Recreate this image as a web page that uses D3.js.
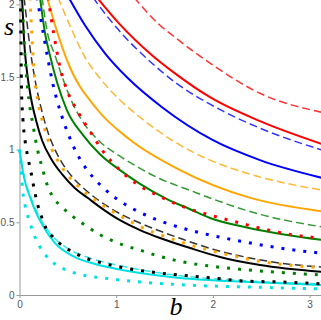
<!DOCTYPE html>
<html lang="en">
<head>
    <meta charset="UTF-8">
    <title>s vs b</title>
    <script src="https://d3js.org/d3.v7.min.js"></script>
    <style>
        body { margin: 0; background: #fff; }
        .tick text { font-family: "Liberation Sans", sans-serif; font-size: 10px; fill: #555; }
        .axis path, .axis line { stroke: #999; }
    </style>
</head>
<body>
    <div class="canvas"></div>
    <script>
        // curves, each point is [b, s]
        let redDashed = [[1.184, 2.048], [1.453, 1.856], [1.608, 1.773], [1.970, 1.595], [2.487, 1.388], [3.14, 1.255]];
        let redSolid = [[0.800, 2.048], [1.019, 1.876], [1.370, 1.650], [1.608, 1.525], [1.970, 1.361], [2.487, 1.196], [3.14, 1.036]];
        let redDotted = [[0.295, 2.048], [0.357, 1.787], [0.419, 1.567], [0.491, 1.409], [0.595, 1.271], [0.729, 1.127], [0.863, 0.990],
            [1.039, 0.859], [1.215, 0.763], [1.422, 0.687], [1.732, 0.598], [1.970, 0.550], [2.281, 0.495], [2.487, 0.460], [2.848, 0.412], [3.14, 0.390]];

        let blueDashed = [[0.760, 2.048], [0.812, 2.000], [1.019, 1.828], [1.370, 1.595], [1.608, 1.464], [1.970, 1.313], [2.487, 1.148], [3.14, 0.995]];
        let blueSolid = [[0.502, 2.055], [0.677, 1.856], [0.884, 1.663], [1.122, 1.491], [1.474, 1.292], [2.001, 1.065], [2.487, 0.928], [3.14, 0.804]];
        let blueDotted = [[0.181, 2.048], [0.233, 1.85], [0.295, 1.62], [0.346, 1.45], [0.388, 1.34], [0.474, 1.16], [0.553, 1.03], [0.626, 0.935],
            [0.760, 0.81], [0.863, 0.74], [1.019, 0.655], [1.225, 0.575], [1.432, 0.515], [1.660, 0.465], [1.867, 0.428], [2.094, 0.395],
            [2.332, 0.365], [2.539, 0.34], [2.777, 0.315], [3.14, 0.287]];

        let orangeDashed = [[0.398, 2.048], [0.543, 1.821], [0.677, 1.636], [0.832, 1.491], [1.019, 1.354], [1.246, 1.223], [1.453, 1.12],
            [1.660, 1.031], [1.970, 0.928], [2.351, 0.838], [3.14, 0.720]];
        let orangeSolid = [[0.285, 2.048], [0.38, 1.83], [0.5, 1.60], [0.8, 1.28], [1.14, 1.07], [1.66, 0.86], [2.38, 0.67], [3.14, 0.575]];
        let orangeDotted = [[0.109, 2.048], [0.12, 1.89], [0.13, 1.76], [0.14, 1.64], [0.16, 1.47], [0.19, 1.33], [0.24, 1.19], [0.284, 1.09],
            [0.336, 1.0], [0.419, 0.9], [0.491, 0.83], [0.605, 0.75], [0.708, 0.69], [0.812, 0.64], [1.039, 0.545], [1.319, 0.45],
            [1.536, 0.395], [1.815, 0.335], [2.104, 0.285], [2.487, 0.232], [3.14, 0.186]];

        let greenDashed = [[0.233, 2.048], [0.284, 1.821], [0.367, 1.649], [0.44, 1.505], [0.522, 1.36], [0.657, 1.19], [0.832, 1.055], [1.039, 0.955],
            [1.246, 0.872], [1.453, 0.80], [1.764, 0.72], [2.0, 0.66], [2.5, 0.553], [3.14, 0.467]];
        let greenSolid = [[0.212, 2.048], [0.264, 1.801], [0.315, 1.649], [0.388, 1.464], [0.491, 1.271], [0.657, 1.10], [0.832, 0.969], [1.039, 0.859],
            [1.246, 0.765], [1.525, 0.66], [1.764, 0.59], [1.97, 0.53], [2.384, 0.46], [2.75, 0.415], [3.14, 0.378]];
        let greenDotted = [[0.026, 2.048], [0.047, 1.753], [0.067, 1.546], [0.098, 1.340], [0.140, 1.168], [0.181, 1.017], [0.233, 0.880], [0.295, 0.742],
            [0.346, 0.674], [0.440, 0.605], [0.543, 0.545], [0.657, 0.49], [0.832, 0.415], [1.070, 0.344], [1.246, 0.309], [1.401, 0.275],
            [1.711, 0.225], [2.022, 0.195], [2.311, 0.175], [2.766, 0.152], [3.14, 0.137]];

        let blackDashed = [[0.047, 2.048], [0.08, 1.86], [0.109, 1.70], [0.14, 1.56], [0.181, 1.41], [0.222, 1.29], [0.284, 1.14], [0.367, 1.0],
            [0.44, 0.91], [0.543, 0.815], [0.646, 0.745], [0.832, 0.645], [1.039, 0.56], [1.246, 0.495], [1.453, 0.44], [1.66, 0.39],
            [2.0, 0.315], [2.384, 0.255], [2.75, 0.215], [3.14, 0.192]];
        let blackSolid = [[0.026, 2.048], [0.047, 1.753], [0.078, 1.533], [0.119, 1.354], [0.171, 1.203], [0.233, 1.065], [0.336, 0.928], [0.440, 0.832],
            [0.574, 0.735], [0.708, 0.667], [0.832, 0.605], [1.039, 0.515], [1.246, 0.447], [1.453, 0.392], [1.764, 0.323], [2.073, 0.261],
            [2.487, 0.206], [3.14, 0.158]];
        let blackDotted = [[0.010, 2.048], [0.016, 1.684], [0.021, 1.409], [0.036, 1.203], [0.057, 1.065], [0.088, 0.942], [0.119, 0.845], [0.150, 0.735],
            [0.181, 0.639], [0.222, 0.550], [0.274, 0.460], [0.346, 0.399], [0.450, 0.337], [0.553, 0.296], [0.657, 0.261], [0.781, 0.234],
            [0.988, 0.199], [1.215, 0.172], [1.453, 0.151], [1.660, 0.137], [1.991, 0.117], [2.332, 0.096], [2.715, 0.089], [3.14, 0.076]];

        let cyanDashed = [[0, 1.0], [0.026, 0.893], [0.057, 0.790], [0.109, 0.687], [0.181, 0.570], [0.315, 0.426], [0.491, 0.323], [0.698, 0.261],
            [1.008, 0.206], [1.453, 0.151], [2.384, 0.096], [3.14, 0.076]];
        let cyanSolid = [[0, 1.0], [0.016, 0.928], [0.036, 0.845], [0.067, 0.756], [0.109, 0.674], [0.160, 0.584], [0.243, 0.474], [0.367, 0.357],
            [0.553, 0.268], [0.781, 0.213], [1.008, 0.179], [1.246, 0.151], [1.660, 0.117], [2.384, 0.089], [3.14, 0.069]];
        let cyanDotted = [[0, 1.0], [0.016, 0.893], [0.026, 0.777], [0.036, 0.701], [0.057, 0.619], [0.109, 0.495], [0.160, 0.399], [0.212, 0.330],
            [0.315, 0.241], [0.419, 0.192], [0.543, 0.158], [0.698, 0.131], [0.863, 0.117], [1.143, 0.096], [1.711, 0.069], [2.384, 0.055], [3.14, 0.041]];

        let xTicks = [0, 1, 2, 3];
        let yTicks = [0, 0.5, 1, 1.5, 2];

        // which array goes with which colour and line style
        let curves = [
            { data: cyanSolid, color: "#00e0e0", style: "solid" },
            { data: cyanDashed, color: "#00e0e0", style: "dashed" },
            { data: cyanDotted, color: "#00e0e0", style: "dotted" },
            { data: blackSolid, color: "#000000", style: "solid" },
            { data: blackDashed, color: "#000000", style: "dashed" },
            { data: greenSolid, color: "#008000", style: "solid" },
            { data: greenDashed, color: "#008000", style: "dashed" },
            { data: orangeSolid, color: "#ffa500", style: "solid" },
            { data: orangeDashed, color: "#ffa500", style: "dashed" },
            { data: blueSolid, color: "#0000ff", style: "solid" },
            { data: blueDashed, color: "#0000ff", style: "dashed" },
            { data: redSolid, color: "#ff0000", style: "solid" },
            { data: redDashed, color: "#ff0000", style: "dashed" },
            { data: greenDotted, color: "#008000", style: "dotted" },
            { data: orangeDotted, color: "#ffa500", style: "dotted" },
            { data: blueDotted, color: "#0000ff", style: "dotted" },
            { data: redDotted, color: "#ff0000", style: "dotted" },
            { data: blackDotted, color: "#000000", style: "dotted" }
        ];

        let width = 321, height = 320;
        let svg = d3.select(".canvas").append("svg")
            .attr("width", width)
            .attr("height", height);

        // scales
        let x_scale = d3.scaleLinear().domain([0, 3.14]).range([19.5, 19.5 + 3.14 * 96.7]);
        let y_scale = d3.scaleLinear().domain([0, 2.03]).range([295, 0]);

        // axes
        let axis_g = svg.append("g").attr("class", "axis");
        axis_g.append("g")
            .attr("transform", "translate(0,295)")
            .call(d3.axisBottom(x_scale).tickValues(xTicks).tickSize(3).tickSizeOuter(0).tickFormat(d3.format("d")));
        axis_g.append("g")
            .attr("transform", "translate(19.5,0)")
            .call(d3.axisLeft(y_scale).tickValues(yTicks).tickSize(3).tickPadding(2).tickSizeOuter(0).tickFormat(d => String(d)));

        svg.append("text")
            .attr("x", 9).attr("y", 35)
            .attr("text-anchor", "middle")
            .style("font-family", "'Liberation Serif', serif")
            .style("font-style", "italic")
            .style("font-size", "26px")
            .text("s");
        svg.append("text")
            .attr("x", 176).attr("y", 315)
            .attr("text-anchor", "middle")
            .style("font-family", "'Liberation Serif', serif")
            .style("font-style", "italic")
            .style("font-size", "26px")
            .text("b");

        // curves
        let line = d3.line()
            .x(d => x_scale(d[0]))
            .y(d => y_scale(d[1]))
            .curve(d3.curveMonotoneX);

        let dash = { solid: null, dashed: "8,4", dotted: "3,8" };
        let widths = { solid: 2, dashed: 1.5, dotted: 3 };

        svg.append("g").selectAll("path").data(curves).enter().append("path")
            .attr("d", d => line(d.data))
            .attr("fill", "none")
            .attr("stroke", d => d.color)
            .attr("stroke-width", d => widths[d.style])
            .attr("stroke-dasharray", d => dash[d.style])
            .attr("stroke-opacity", d => d.style == "dashed" ? 0.8 : 1);
    </script>
</body>
</html>
